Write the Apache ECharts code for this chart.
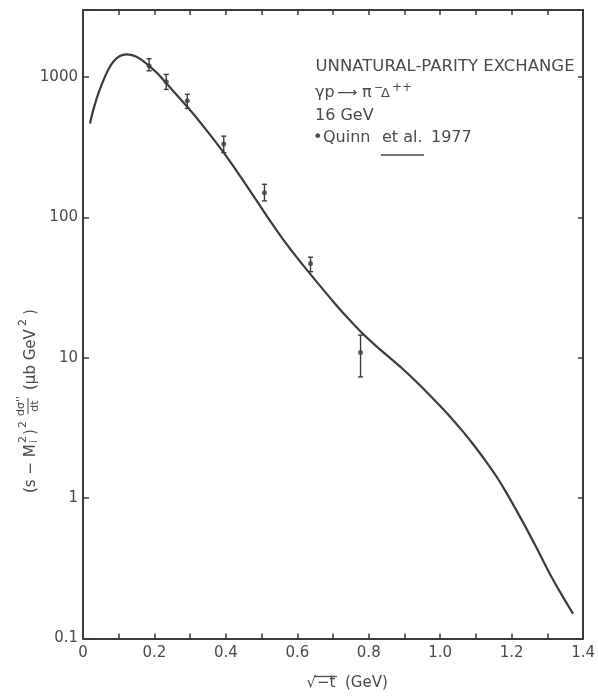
<!DOCTYPE html>
<html><head><meta charset="utf-8">
<script src="https://cdn.jsdelivr.net/npm/echarts@6/dist/echarts.min.js"></script>
<style>html,body{margin:0;padding:0;background:#fff}#c{width:598px;height:698px}</style>
</head><body><div id="c"></div>
<script>
// ---- data ----
const curveX = [0.0195, 0.0279, 0.0377, 0.0474, 0.0586, 0.0725, 0.0865, 0.1032, 0.1213, 0.1395, 0.159, 0.184, 0.209, 0.234, 0.292, 0.340, 0.394, 0.438, 0.480, 0.522, 0.559, 0.597, 0.633, 0.708, 0.742, 0.777, 0.817, 0.856, 0.893, 0.931, 0.981, 1.024, 1.065, 1.096, 1.130, 1.158, 1.186, 1.232, 1.269, 1.306, 1.344, 1.372];
const curveY = [467, 571, 696, 820, 966, 1148, 1298, 1409, 1449, 1425, 1352, 1206, 1057, 897, 613, 436, 289, 200, 138.6, 95.8, 70.3, 52.5, 40.4, 23.85, 19.1, 15.4, 12.36, 10.14, 8.41, 6.82, 5.08, 3.90, 2.95, 2.35, 1.80, 1.42, 1.085, 0.672, 0.446, 0.292, 0.197, 0.150];
const pointX = [0.185, 0.233, 0.292, 0.394, 0.508, 0.637, 0.777];
const pointY = [1200, 925, 677, 333, 150, 47, 10.9];
const errLow = [1107, 816, 597, 289, 131, 41, 7.3];
const errHigh = [1349, 1043, 752, 379, 172, 52, 14.5];
const xTickLabels = ['0', '0.2', '0.4', '0.6', '0.8', '1.0', '1.2', '1.4'];
const yTickLabels = ['0.1', '1', '10', '100', '1000'];
const annotation = ['UNNATURAL-PARITY EXCHANGE', 'γp', '⟶', 'π', '−', 'Δ', '++', '16 GeV'];
const legendParts = ['•', 'Quinn', 'et al.', '1977'];

const INK = '#3b3b3b';
const TXT = '#4a4a4a';
const FF = '"DejaVu Sans", sans-serif';

const chart = echarts.init(document.getElementById('c'), null, {renderer: 'canvas'});

function xFmt(v) {
  const k = Math.round(v * 10);
  if (k % 2 !== 0) return '';
  return xTickLabels[k / 2] || '';
}
function yFmt(v) {
  const e = Math.log10(v);
  const r = Math.round(e);
  if (Math.abs(e - r) > 1e-6) return '';
  return yTickLabels[r + 1] || '';
}

const axisLine = {show: true, onZero: false, lineStyle: {color: INK, width: 2}};
const axisTick = {show: true, inside: true, length: 5, lineStyle: {color: INK, width: 1.5}};

function txt(x, y, text, size, align) {
  return {type: 'text', x: x, y: y, silent: true,
    style: {text: text, fontSize: size, fontFamily: FF, fill: TXT, align: align || 'left', verticalAlign: 'middle'}};
}

const option = {
  backgroundColor: '#ffffff',
  animation: false,
  grid: {left: 83, right: 13, top: 10, bottom: 59.5, containLabel: false},
  xAxis: [
    {type: 'value', position: 'bottom', min: 0, max: 1.4, interval: 0.1,
      axisLine: axisLine, axisTick: axisTick, splitLine: {show: false},
      axisLabel: {show: true, margin: 7, fontSize: 15, fontFamily: FF, color: TXT, formatter: xFmt}},
    {type: 'value', position: 'top', min: 0, max: 1.4, interval: 0.1,
      axisLine: axisLine, axisTick: axisTick, splitLine: {show: false}, axisLabel: {show: false}}
  ],
  yAxis: [
    {type: 'log', logBase: 10, position: 'left', min: 0.1, max: 3000,
      axisLine: axisLine, axisTick: Object.assign({}, axisTick, {length: 6}), splitLine: {show: false}, minorTick: {show: false},
      axisLabel: {show: true, margin: 5, fontSize: 15, fontFamily: FF, color: TXT, formatter: yFmt}},
    {type: 'log', logBase: 10, position: 'right', min: 0.1, max: 3000,
      axisLine: axisLine, axisTick: axisTick, splitLine: {show: false}, axisLabel: {show: false}}
  ],
  series: [
    {type: 'line', xAxisIndex: 0, yAxisIndex: 0, smooth: 0.3, showSymbol: false, silent: true,
      lineStyle: {color: INK, width: 2.2},
      data: curveX.map((x, i) => [x, curveY[i]])},
    {type: 'custom', xAxisIndex: 0, yAxisIndex: 0, silent: true,
      data: pointX.map((x, i) => [x, errLow[i], errHigh[i]]),
      encode: {x: 0, y: [1, 2]},
      renderItem: function (params, api) {
        const x = api.value(0);
        const lo = api.coord([x, api.value(1)]);
        const hi = api.coord([x, api.value(2)]);
        const c = 2.5;
        const st = {stroke: INK, lineWidth: 1.4};
        return {type: 'group', children: [
          {type: 'line', shape: {x1: lo[0], y1: lo[1], x2: hi[0], y2: hi[1]}, style: st},
          {type: 'line', shape: {x1: lo[0] - c, y1: lo[1], x2: lo[0] + c, y2: lo[1]}, style: st},
          {type: 'line', shape: {x1: hi[0] - c, y1: hi[1], x2: hi[0] + c, y2: hi[1]}, style: st}
        ]};
      }},
    {type: 'scatter', xAxisIndex: 0, yAxisIndex: 0, symbol: 'circle', symbolSize: 5, silent: true,
      itemStyle: {color: INK},
      data: pointX.map((x, i) => [x, pointY[i]])}
  ],
  graphic: [
    txt(315.5, 66.5, annotation[0], 16.5),
    txt(315, 93, annotation[1], 16),
    txt(337, 93, annotation[2], 14),
    txt(362, 93, annotation[3], 16),
    txt(374, 88, annotation[4], 11),
    txt(381, 94, annotation[5], 13),
    txt(392, 88, annotation[6], 12),
    txt(315, 116, annotation[7], 16),
    txt(313, 137.5, legendParts[0], 16),
    txt(323, 137.5, legendParts[1], 16),
    txt(382, 137.5, legendParts[2], 16),
    txt(431, 137.5, legendParts[3], 16),
    {type: 'line', silent: true, shape: {x1: 381, y1: 155, x2: 424, y2: 155}, style: {stroke: TXT, lineWidth: 1.5}},
    // x-axis title
    txt(306.5, 683.5, '√', 15),
    txt(317, 683.5, '−t', 15),
    {type: 'line', silent: true, shape: {x1: 314, y1: 676.5, x2: 337, y2: 676.5}, style: {stroke: TXT, lineWidth: 1.3}},
    txt(345, 683.5, '(GeV)', 15),
    // y-axis title (rotated group)
    {type: 'group', x: 31.5, y: 398, rotation: Math.PI / 2, silent: true, children: [
      txt(-95, 0, '(s − M', 15),
      txt(-45, 3, 'i', 10),
      txt(-45, -8, '2', 11),
      txt(-37, 0, ')', 15),
      txt(-30, -8, '2', 11),
      txt(-8, -10, 'dσ\'\'', 11, 'center'),
      {type: 'line', shape: {x1: -16, y1: -3.5, x2: 0, y2: -3.5}, style: {stroke: TXT, lineWidth: 1}},
      txt(-8, 4, 'dt', 11, 'center'),
      txt(8, 0, '(μb GeV', 15),
      txt(72, -8, '2', 11),
      txt(83, 0, ')', 15)
    ]}
  ]
};
chart.setOption(option);
</script>
</body></html>
